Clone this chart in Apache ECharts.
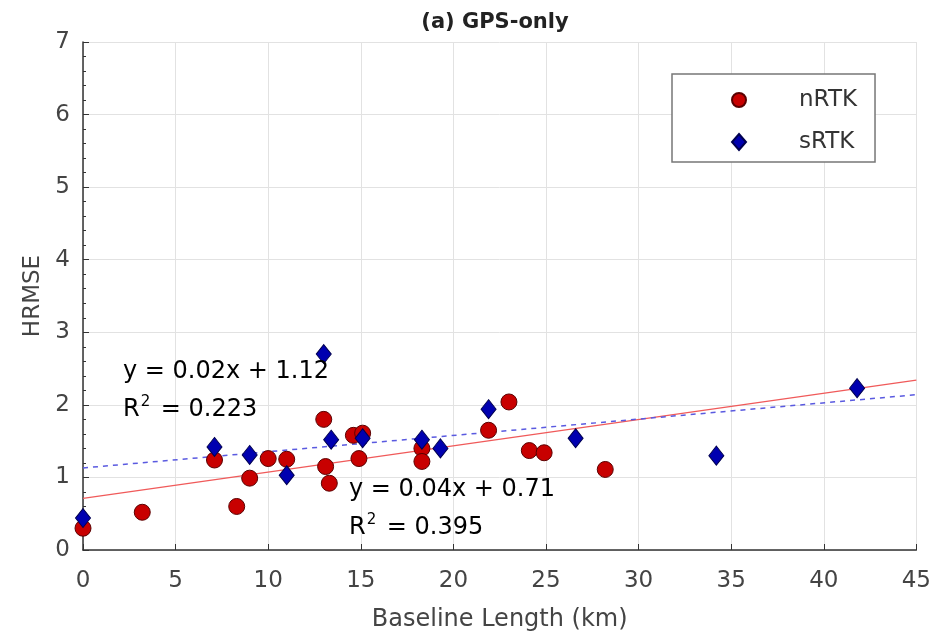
<!DOCTYPE html>
<html>
<head>
<meta charset="utf-8">
<script src="https://cdn.jsdelivr.net/npm/echarts@6/dist/echarts.min.js"></script>
<style>
  html, body { margin: 0; padding: 0; background: #fff; }
  #box { width: 934px; height: 637px; }
</style>
</head>
<body>
<div id="box"></div>
<script>
// values
const nrtkX = [0, 3.2, 7.1, 8.3, 9.0, 10.0, 11.0, 13.0, 13.1, 13.3, 14.6, 15.1, 14.9, 18.3, 18.3, 21.9, 23.0, 24.1, 24.9, 28.2]
const nrtkY = [0.30, 0.52, 1.24, 0.60, 0.99, 1.26, 1.25, 1.80, 1.15, 0.92, 1.58, 1.61, 1.26, 1.40, 1.22, 1.65, 2.04, 1.37, 1.34, 1.11]
const srtkX = [0, 7.1, 9.0, 11.0, 13.0, 13.4, 15.1, 18.3, 19.3, 21.9, 26.6, 34.2, 41.8]
const srtkY = [0.44, 1.42, 1.31, 1.03, 2.70, 1.52, 1.54, 1.52, 1.40, 1.94, 1.54, 1.30, 2.23]
// fitted lines, endpoints at x = 0 and x = 45
const fitX = [0, 45]
const nrtkFit = [0.71, 2.34]
const srtkFit = [1.13, 2.14]

const pairs = (xs, ys) => xs.map((x, i) => [x, ys[i]])

const chart = echarts.init(document.getElementById('box'))
const font = 'DejaVu Sans, Arial, sans-serif'
const eqRich = {
  b: { fontSize: 24, lineHeight: 30, color: '#333', fontFamily: font },
  sup: { fontSize: 15, lineHeight: 15, verticalAlign: 'top', color: '#333', fontFamily: font, padding: [0, 3, 0, 1] }
}

chart.setOption({
  animation: false,
  textStyle: { fontFamily: font },
  title: {
    text: '(a) GPS-only',
    left: 490,
    top: 7,
    textAlign: 'center',
    textStyle: { fontSize: 21, fontWeight: 'bold', color: '#222', fontFamily: font }
  },
  grid: { left: 83, right: 16, top: 42, bottom: 87 },
  legend: {
    orient: 'vertical',
    left: 672,
    top: 74,
    data: ['nRTK', 'sRTK'],
    backgroundColor: '#fff',
    borderColor: '#777',
    borderWidth: 1.5,
    padding: [14, 18, 8, 59],
    itemGap: 18,
    itemWidth: 14,
    itemHeight: 16,
    textStyle: { fontSize: 23, color: '#333', padding: [0, 0, 0, 48], lineHeight: 24, fontFamily: font }
  },
  xAxis: {
    type: 'value',
    min: 0,
    max: 45,
    interval: 5,
    name: 'Baseline Length (km)',
    nameLocation: 'middle',
    nameGap: 58,
    nameTextStyle: { fontSize: 24, color: '#444' },
    axisLine: { lineStyle: { color: '#333', width: 1.5 } },
    axisTick: { inside: true, length: 6, lineStyle: { color: '#333' } },
    axisLabel: { fontSize: 23, color: '#444', margin: 20 },
    splitLine: { show: true, lineStyle: { color: '#e2e2e2', width: 1 } }
  },
  yAxis: {
    type: 'value',
    min: 0,
    max: 7,
    interval: 1,
    name: 'HRMSE',
    nameLocation: 'middle',
    nameGap: 38,
    nameTextStyle: { fontSize: 23, color: '#444' },
    axisLine: { show: true, lineStyle: { color: '#333', width: 1.5 } },
    axisTick: { show: true, inside: true, length: 6, lineStyle: { color: '#333' } },
    minorTick: { show: true, splitNumber: 5, length: 3, lineStyle: { color: '#333' } },
    axisLabel: { fontSize: 23, color: '#444', margin: 13 },
    splitLine: { show: true, lineStyle: { color: '#e2e2e2', width: 1 } }
  },
  series: [
    {
      name: 'nRTK fit',
      type: 'line',
      data: pairs(fitX, nrtkFit),
      symbol: 'none',
      lineStyle: { color: '#f05a5a', width: 1.3 },
      z: 1
    },
    {
      name: 'sRTK fit',
      type: 'line',
      data: pairs(fitX, srtkFit),
      symbol: 'none',
      lineStyle: { color: '#5a5ae0', width: 1.5, type: [5, 5] },
      z: 1
    },
    {
      name: 'nRTK',
      type: 'scatter',
      data: pairs(nrtkX, nrtkY),
      symbol: 'circle',
      symbolSize: 16,
      itemStyle: { color: '#c80000', borderColor: '#5a0000', borderWidth: 1, opacity: 1 },
      z: 3
    },
    {
      name: 'sRTK',
      type: 'scatter',
      data: pairs(srtkX, srtkY),
      symbol: 'diamond',
      symbolSize: [15, 19],
      itemStyle: { color: '#0000b0', borderColor: '#000050', borderWidth: 1, opacity: 1 },
      z: 4
    }
  ],
  graphic: [
    {
      type: 'text', left: 123, top: 360, z: 10,
      style: { text: '{b|y = 0.02x + 1.12}', rich: eqRich }
    },
    {
      type: 'text', left: 123, top: 395, z: 10,
      style: { text: '{b|R}{sup|2}{b| = 0.223}', rich: eqRich }
    },
    {
      type: 'text', left: 349, top: 478, z: 10,
      style: { text: '{b|y = 0.04x + 0.71}', rich: eqRich }
    },
    {
      type: 'text', left: 349, top: 513, z: 10,
      style: { text: '{b|R}{sup|2}{b| = 0.395}', rich: eqRich }
    }
  ]
})
</script>
</body>
</html>
